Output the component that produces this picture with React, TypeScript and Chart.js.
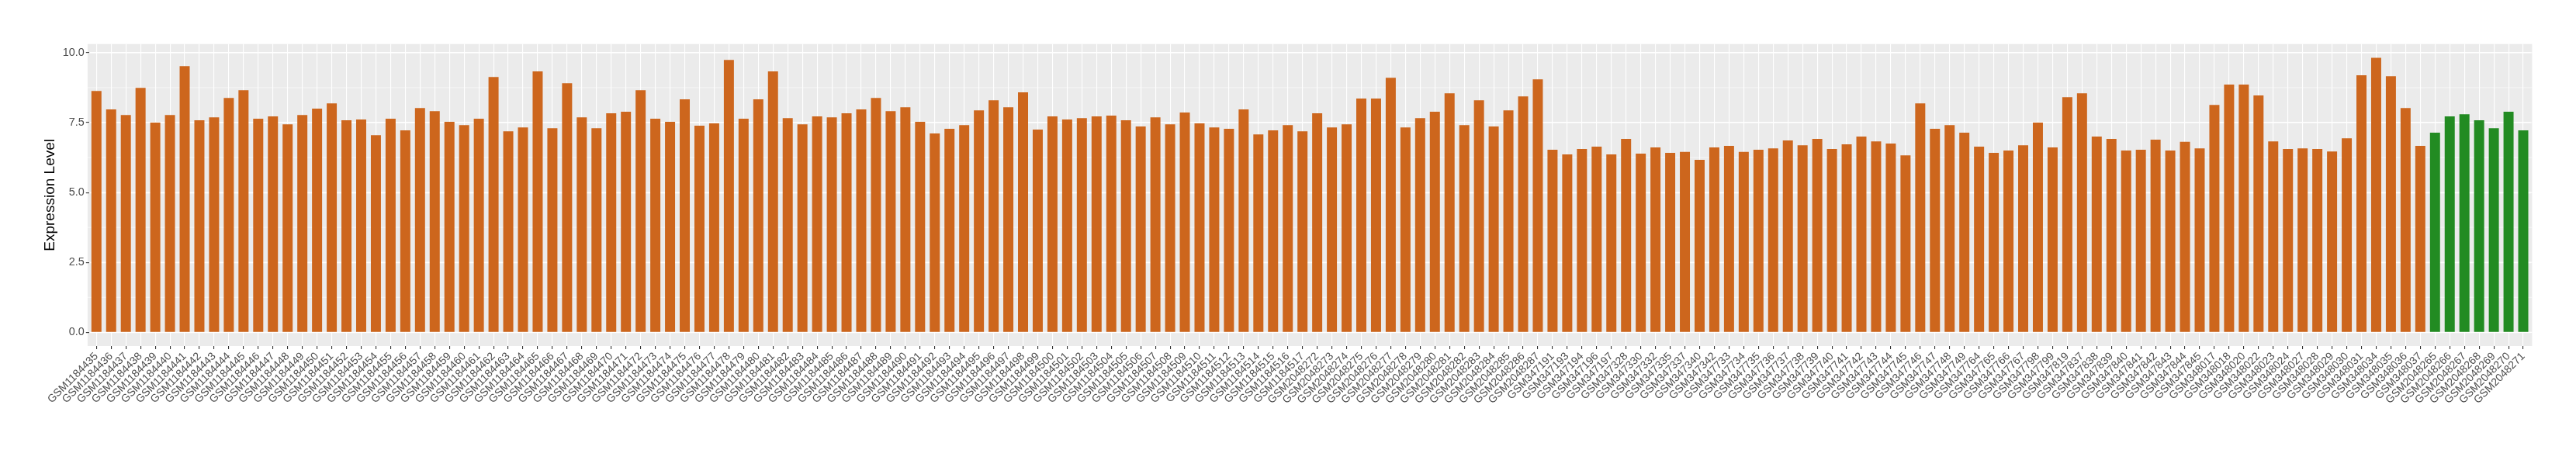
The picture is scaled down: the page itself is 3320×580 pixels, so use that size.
import React, { useEffect, useRef } from 'react';
import { Chart, registerables } from 'chart.js';

Chart.register(...registerables);

const orangeSamples: string[] = [
  'GSM1184435', 'GSM1184436', 'GSM1184437', 'GSM1184438', 'GSM1184439', 'GSM1184440', 'GSM1184441', 'GSM1184442', 'GSM1184443', 'GSM1184444',
  'GSM1184445', 'GSM1184446', 'GSM1184447', 'GSM1184448', 'GSM1184449', 'GSM1184450', 'GSM1184451', 'GSM1184452', 'GSM1184453', 'GSM1184454',
  'GSM1184455', 'GSM1184456', 'GSM1184457', 'GSM1184458', 'GSM1184459', 'GSM1184460', 'GSM1184461', 'GSM1184462', 'GSM1184463', 'GSM1184464',
  'GSM1184465', 'GSM1184466', 'GSM1184467', 'GSM1184468', 'GSM1184469', 'GSM1184470', 'GSM1184471', 'GSM1184472', 'GSM1184473', 'GSM1184474',
  'GSM1184475', 'GSM1184476', 'GSM1184477', 'GSM1184478', 'GSM1184479', 'GSM1184480', 'GSM1184481', 'GSM1184482', 'GSM1184483', 'GSM1184484',
  'GSM1184485', 'GSM1184486', 'GSM1184487', 'GSM1184488', 'GSM1184489', 'GSM1184490', 'GSM1184491', 'GSM1184492', 'GSM1184493', 'GSM1184494',
  'GSM1184495', 'GSM1184496', 'GSM1184497', 'GSM1184498', 'GSM1184499', 'GSM1184500', 'GSM1184501', 'GSM1184502', 'GSM1184503', 'GSM1184504',
  'GSM1184505', 'GSM1184506', 'GSM1184507', 'GSM1184508', 'GSM1184509', 'GSM1184510', 'GSM1184511', 'GSM1184512', 'GSM1184513', 'GSM1184514',
  'GSM1184515', 'GSM1184516', 'GSM1184517',
  'GSM2048272', 'GSM2048273', 'GSM2048274', 'GSM2048275', 'GSM2048276', 'GSM2048277', 'GSM2048278', 'GSM2048279', 'GSM2048280', 'GSM2048281',
  'GSM2048282', 'GSM2048283', 'GSM2048284', 'GSM2048285', 'GSM2048286', 'GSM2048287',
  'GSM347191', 'GSM347193', 'GSM347194', 'GSM347196', 'GSM347197', 'GSM347328', 'GSM347330', 'GSM347332', 'GSM347335', 'GSM347337',
  'GSM347340', 'GSM347342',
  'GSM347733', 'GSM347734', 'GSM347735', 'GSM347736', 'GSM347737', 'GSM347738', 'GSM347739', 'GSM347740', 'GSM347741', 'GSM347742',
  'GSM347743', 'GSM347744', 'GSM347745', 'GSM347746', 'GSM347747', 'GSM347748', 'GSM347749',
  'GSM347764', 'GSM347765', 'GSM347766', 'GSM347767',
  'GSM347798', 'GSM347799', 'GSM347819', 'GSM347837', 'GSM347838', 'GSM347839', 'GSM347840', 'GSM347841', 'GSM347842', 'GSM347843',
  'GSM347844', 'GSM347845',
  'GSM348017', 'GSM348018', 'GSM348020', 'GSM348022', 'GSM348023', 'GSM348024', 'GSM348027', 'GSM348028', 'GSM348029', 'GSM348030',
  'GSM348031', 'GSM348034', 'GSM348035', 'GSM348036', 'GSM348037',
];

const orangeValues: number[] = [
  8.63, 7.97, 7.77, 8.74, 7.50, 7.77, 9.52, 7.58, 7.69, 8.38,
  8.66, 7.64, 7.72, 7.44, 7.77, 8.00, 8.19, 7.58, 7.61, 7.05, 7.64, 7.22, 8.02, 7.91,
  7.53, 7.41, 7.64, 9.13, 7.19, 7.33, 9.33, 7.30, 8.91, 7.69, 7.30, 7.83, 7.89, 8.66,
  7.64, 7.53, 8.33, 7.39, 7.47, 9.74, 7.64, 8.33, 9.33, 7.66, 7.44, 7.72, 7.69, 7.83, 7.97,
  8.38, 7.91, 8.05, 7.53, 7.11, 7.28, 7.41, 7.94, 8.30, 8.05, 8.58, 7.25, 7.72, 7.61,
  7.66, 7.72, 7.75, 7.58, 7.36, 7.69, 7.44, 7.86, 7.47, 7.33, 7.28, 7.97, 7.08, 7.22,
  7.41, 7.19,
  7.83, 7.33, 7.44, 8.36, 8.36, 9.10, 7.33, 7.66, 7.89, 8.55, 7.41, 8.30, 7.36, 7.94, 8.44, 9.05,
  6.53, 6.36, 6.56, 6.64, 6.36, 6.92, 6.39, 6.61, 6.42, 6.45, 6.17, 6.61,
  6.67, 6.45, 6.53, 6.58, 6.86, 6.69, 6.92, 6.56, 6.72, 7.00, 6.83, 6.75, 6.33, 8.19, 7.28, 7.41, 7.14,
  6.64, 6.42, 6.50, 6.69,
  7.50, 6.61, 8.41, 8.55, 7.00, 6.92, 6.50, 6.53, 6.89, 6.50, 6.81, 6.58,
  8.13, 8.86, 8.86, 8.47, 6.83, 6.56, 6.58, 6.56, 6.47, 6.94, 9.19, 9.82, 9.16, 8.02, 6.67,
];

const greenSamples: string[] = [
  'GSM2048265', 'GSM2048266', 'GSM2048267', 'GSM2048268', 'GSM2048269', 'GSM2048270', 'GSM2048271',
];

const greenValues: number[] = [7.14, 7.72, 7.80, 7.58, 7.30, 7.89, 7.22];

const yMajorTicks: number[] = [0, 2.5, 5, 7.5, 10];
const yMinorTicks: number[] = [1.25, 3.75, 6.25, 8.75];
const yTitle = 'Expression Level';

const ORANGE = '#CD661D';
const GREEN = '#228B22';
const PANEL = '#EBEBEB';
const FONT = "'Liberation Sans', Arial, Helvetica, sans-serif";

const panelPlugin = {
  id: 'ggPanel',
  beforeDraw(chart: any) {
    const { ctx, chartArea, scales } = chart;
    const xs = scales.x;
    const ys = scales.y;
    const step = xs.getPixelForValue(1) - xs.getPixelForValue(0);
    const l = chartArea.left - 0.1 * step;
    const r = chartArea.right + 0.1 * step;
    ctx.save();
    ctx.fillStyle = PANEL;
    ctx.fillRect(l, chartArea.top, r - l, chartArea.bottom - chartArea.top);
    ctx.strokeStyle = '#FFFFFF';
    ctx.lineWidth = 0.6;
    for (const v of yMinorTicks) {
      const p = ys.getPixelForValue(v);
      ctx.beginPath();
      ctx.moveTo(l, p);
      ctx.lineTo(r, p);
      ctx.stroke();
    }
    ctx.lineWidth = 1.2;
    for (const v of yMajorTicks) {
      const p = ys.getPixelForValue(v);
      ctx.beginPath();
      ctx.moveTo(l, p);
      ctx.lineTo(r, p);
      ctx.stroke();
    }
    ctx.restore();
  },
};

export default function App() {
  const canvasRef = useRef<HTMLCanvasElement | null>(null);

  useEffect(() => {
    const canvas = canvasRef.current;
    if (!canvas) return;
    const labels = [...orangeSamples, ...greenSamples];
    const orangeData = [...orangeValues, ...greenValues.map(() => null)];
    const greenData = [...orangeValues.map(() => null), ...greenValues];
    const all = [...orangeValues, ...greenValues];
    const maxV = Math.max(...all);
    const pad = maxV * 0.05;

    const chart = new Chart(canvas, {
      type: 'bar',
      data: {
        labels,
        datasets: [
          {
            label: 'orange',
            data: orangeData as any,
            backgroundColor: ORANGE,
            borderWidth: 0,
            barPercentage: 0.685,
            categoryPercentage: 1,
            grouped: false,
          },
          {
            label: 'green',
            data: greenData as any,
            backgroundColor: GREEN,
            borderWidth: 0,
            barPercentage: 0.685,
            categoryPercentage: 1,
            grouped: false,
          },
        ],
      },
      options: {
        responsive: false,
        animation: false,
        devicePixelRatio: 1,
        layout: { padding: { left: 0, top: 56.7, right: 58.5, bottom: 0 } },
        plugins: {
          legend: { display: false },
          tooltip: { enabled: false },
        },
        scales: {
          x: {
            type: 'category',
            offset: true,
            border: { display: false },
            grid: {
              offset: false,
              color: '#FFFFFF',
              lineWidth: 1.1,
              tickColor: '#333333',
              tickLength: 4,
              tickWidth: 1.1,
            },
            ticks: {
              autoSkip: false,
              maxRotation: 45,
              minRotation: 45,
              padding: 1,
              color: '#4D4D4D',
              font: { family: FONT, size: 14 },
            },
            afterFit: (scale: any) => {
              scale.height = 134;
            },
          },
          y: {
            type: 'linear',
            min: -pad,
            max: maxV + pad,
            border: { display: false },
            grid: {
              color: '#FFFFFF',
              lineWidth: 1.2,
              tickColor: '#333333',
              tickLength: 4,
              tickWidth: 1.1,
            },
            afterBuildTicks: (scale: any) => {
              scale.ticks = yMajorTicks.map((v) => ({ value: v }));
            },
            ticks: {
              padding: 2,
              color: '#4D4D4D',
              font: { family: FONT, size: 14.4 },
              callback: (v: any) => Number(v).toFixed(1),
            },
            title: {
              display: true,
              text: yTitle,
              color: '#000000',
              font: { family: FONT, size: 19 },
              padding: { top: 53.6, bottom: 0 },
            },
            afterFit: (scale: any) => {
              scale.width = 114.8;
            },
          },
        },
      },
      plugins: [panelPlugin],
    });

    return () => {
      chart.destroy();
    };
  }, []);

  return (
    <div style={{ position: 'absolute', left: 0, top: 0, width: 3320, height: 580, background: '#FFFFFF' }}>
      <canvas ref={canvasRef} width={3320} height={580} style={{ display: 'block', width: 3320, height: 580 }} />
    </div>
  );
}
